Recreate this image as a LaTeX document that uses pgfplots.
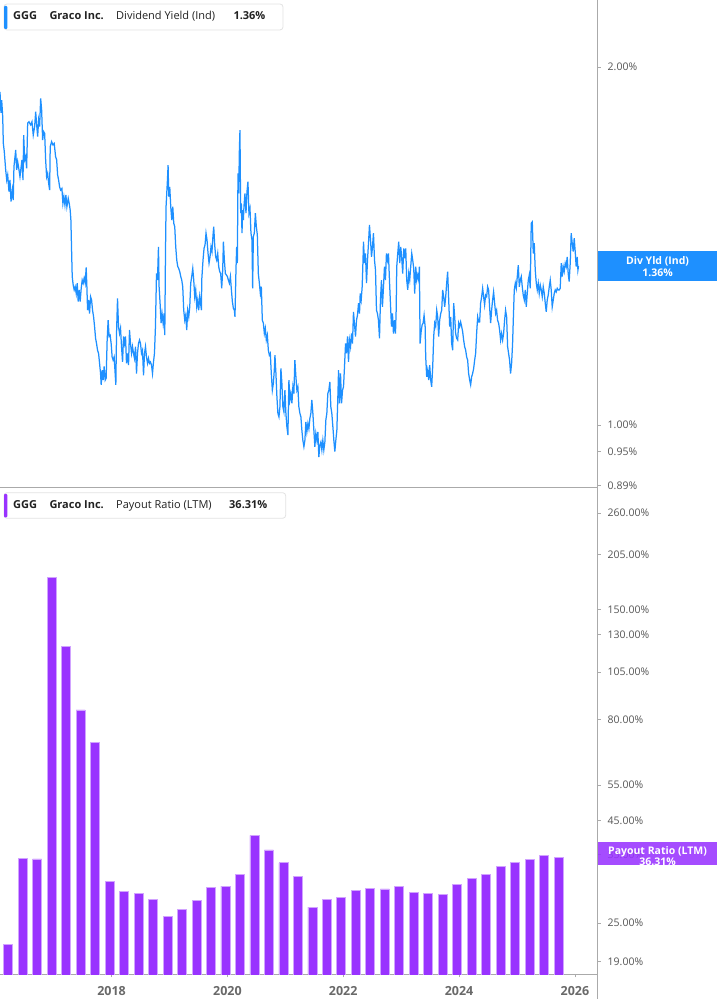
\documentclass[border=0pt]{standalone}
\usepackage{fontspec}
\setmainfont{Open Sans}
\usepackage{pgfplots}
\pgfplotsset{compat=1.18}

\definecolor{divblue}{RGB}{30,144,255}
\definecolor{barpurple}{RGB}{153,51,255}
\definecolor{axisgray}{RGB}{170,170,170}
\definecolor{labelgray}{RGB}{85,85,85}
\definecolor{yeargray}{RGB}{105,105,105}
\definecolor{legendborder}{RGB}{226,226,226}
\definecolor{legendtext}{RGB}{34,34,34}

\begin{document}
\begin{tikzpicture}
\path[use as bounding box] (0bp,0bp) rectangle (717bp,1005bp);

% dividend yield, top panel
\begin{axis}[
at={(0bp,517bp)}, anchor=south west,
width=597.5bp, height=488bp, scale only axis,
xmin=2016.074, xmax=2026.39,
ymode=log, ymin=0.8854, ymax=2.2767,
axis x line*=bottom, axis y line*=right,
axis line style={draw=axisgray, line width=1bp, -},
xtick=\empty,
ytick={0.89,0.95,1,2},
yticklabels={0.89\%,0.95\%,1.00\%,2.00\%},
tick align=outside, major tick length=3bp,
ytick style={draw=axisgray, line width=0.8bp},
yticklabel style={anchor=west, inner sep=0pt, xshift=7bp,
  font=\fontsize{10.5bp}{12bp}\selectfont, text=labelgray},
]
\addplot[divblue, line width=1.25bp] table {
2016.074 1.906
2016.091 1.830
2016.103 1.876
2016.121 1.816
2016.131 1.726
2016.148 1.698
2016.172 1.639
2016.190 1.607
2016.207 1.623
2016.229 1.571
2016.246 1.607
2016.264 1.541
2016.286 1.576
2016.303 1.546
2016.315 1.649
2016.333 1.681
2016.345 1.703
2016.362 1.639
2016.379 1.665
2016.402 1.639
2016.419 1.617
2016.436 1.644
2016.453 1.671
2016.471 1.607
2016.483 1.753
2016.500 1.671
2016.517 1.681
2016.534 1.644
2016.552 1.794
2016.574 1.799
2016.603 1.788
2016.626 1.799
2016.648 1.753
2016.672 1.782
2016.690 1.834
2016.707 1.788
2016.724 1.748
2016.741 1.805
2016.758 1.782
2016.776 1.882
2016.793 1.840
2016.810 1.736
2016.827 1.765
2016.845 1.759
2016.862 1.671
2016.879 1.617
2016.896 1.628
2016.914 1.597
2016.931 1.576
2016.941 1.714
2016.965 1.731
2016.988 1.720
2017.010 1.725
2017.034 1.681
2017.052 1.671
2017.069 1.623
2017.086 1.607
2017.103 1.586
2017.121 1.576
2017.143 1.581
2017.160 1.536
2017.177 1.556
2017.195 1.531
2017.212 1.561
2017.229 1.526
2017.252 1.551
2017.269 1.536
2017.286 1.516
2017.298 1.487
2017.310 1.403
2017.321 1.333
2017.338 1.311
2017.355 1.299
2017.372 1.307
2017.390 1.290
2017.407 1.316
2017.424 1.270
2017.441 1.299
2017.458 1.270
2017.476 1.303
2017.493 1.324
2017.510 1.316
2017.527 1.329
2017.545 1.316
2017.562 1.357
2017.574 1.307
2017.586 1.249
2017.603 1.274
2017.620 1.241
2017.638 1.282
2017.655 1.274
2017.672 1.249
2017.690 1.233
2017.707 1.210
2017.724 1.183
2017.741 1.171
2017.758 1.156
2017.776 1.149
2017.793 1.127
2017.810 1.105
2017.821 1.081
2017.838 1.112
2017.855 1.091
2017.872 1.120
2017.890 1.091
2017.907 1.095
2017.924 1.179
2017.941 1.225
2017.958 1.187
2017.976 1.190
2017.993 1.171
2018.010 1.141
2018.027 1.134
2018.045 1.141
2018.062 1.105
2018.074 1.081
2018.086 1.194
2018.103 1.278
2018.120 1.210
2018.138 1.194
2018.155 1.206
2018.172 1.164
2018.190 1.130
2018.207 1.187
2018.224 1.171
2018.241 1.187
2018.258 1.127
2018.276 1.149
2018.293 1.123
2018.310 1.202
2018.327 1.171
2018.345 1.149
2018.362 1.164
2018.379 1.149
2018.396 1.138
2018.414 1.164
2018.431 1.105
2018.448 1.149
2018.465 1.171
2018.483 1.179
2018.500 1.171
2018.517 1.149
2018.534 1.156
2018.552 1.101
2018.569 1.149
2018.586 1.164
2018.603 1.141
2018.621 1.127
2018.638 1.138
2018.655 1.127
2018.672 1.130
2018.690 1.123
2018.707 1.105
2018.724 1.130
2018.741 1.149
2018.758 1.210
2018.776 1.341
2018.793 1.324
2018.810 1.412
2018.821 1.307
2018.838 1.266
2018.855 1.218
2018.872 1.241
2018.890 1.218
2018.907 1.241
2018.919 1.190
2018.931 1.394
2018.941 1.526
2018.953 1.566
2018.965 1.607
2018.976 1.654
2018.988 1.556
2019.005 1.586
2019.022 1.526
2019.040 1.487
2019.057 1.526
2019.074 1.478
2019.091 1.468
2019.108 1.412
2019.126 1.376
2019.143 1.359
2019.160 1.354
2019.177 1.346
2019.195 1.333
2019.212 1.324
2019.229 1.307
2019.246 1.249
2019.264 1.225
2019.281 1.237
2019.298 1.202
2019.315 1.249
2019.333 1.233
2019.350 1.257
2019.367 1.316
2019.384 1.333
2019.402 1.354
2019.419 1.324
2019.436 1.282
2019.453 1.299
2019.471 1.257
2019.488 1.274
2019.505 1.249
2019.522 1.282
2019.552 1.249
2019.557 1.324
2019.579 1.376
2019.597 1.408
2019.614 1.417
2019.631 1.450
2019.648 1.431
2019.666 1.394
2019.683 1.368
2019.700 1.385
2019.717 1.412
2019.734 1.399
2019.752 1.445
2019.764 1.468
2019.781 1.417
2019.798 1.385
2019.815 1.376
2019.833 1.394
2019.850 1.359
2019.867 1.346
2019.884 1.341
2019.902 1.303
2019.919 1.350
2019.931 1.426
2019.948 1.376
2019.965 1.341
2019.983 1.337
2020.000 1.333
2020.017 1.324
2020.034 1.316
2020.052 1.333
2020.069 1.299
2020.086 1.270
2020.103 1.254
2020.120 1.249
2020.131 1.233
2020.148 1.350
2020.160 1.412
2020.172 1.368
2020.183 1.628
2020.195 1.566
2020.207 1.703
2020.217 1.770
2020.229 1.507
2020.241 1.536
2020.252 1.450
2020.264 1.516
2020.276 1.487
2020.286 1.526
2020.303 1.566
2020.321 1.507
2020.338 1.571
2020.355 1.602
2020.372 1.507
2020.390 1.521
2020.407 1.450
2020.424 1.431
2020.436 1.303
2020.448 1.440
2020.465 1.450
2020.483 1.507
2020.500 1.468
2020.517 1.445
2020.534 1.341
2020.552 1.316
2020.569 1.290
2020.586 1.307
2020.603 1.225
2020.621 1.218
2020.638 1.194
2020.655 1.206
2020.672 1.179
2020.690 1.190
2020.707 1.156
2020.724 1.145
2020.741 1.149
2020.758 1.105
2020.776 1.070
2020.793 1.084
2020.810 1.112
2020.821 1.145
2020.838 1.105
2020.855 1.056
2020.872 1.023
2020.890 1.016
2020.907 1.036
2020.924 1.116
2020.941 1.084
2020.958 1.036
2020.976 1.026
2020.993 1.070
2021.010 1.023
2021.027 0.997
2021.045 0.981
2021.062 1.091
2021.079 1.050
2021.096 1.063
2021.114 1.043
2021.131 1.077
2021.148 1.063
2021.165 1.134
2021.183 1.098
2021.200 1.070
2021.217 1.077
2021.234 1.036
2021.252 1.023
2021.269 1.016
2021.286 0.990
2021.303 0.971
2021.321 0.959
2021.338 0.971
2021.355 1.006
2021.372 0.987
2021.390 1.003
2021.407 0.993
2021.424 1.013
2021.441 1.023
2021.458 1.050
2021.476 1.023
2021.493 0.990
2021.510 0.959
2021.527 0.984
2021.545 0.971
2021.562 0.987
2021.579 0.940
2021.596 0.962
2021.614 0.968
2021.631 0.953
2021.648 0.971
2021.665 0.953
2021.683 0.968
2021.700 1.010
2021.717 1.023
2021.734 1.063
2021.752 1.070
2021.769 1.087
2021.786 1.036
2021.803 1.023
2021.821 0.997
2021.838 0.971
2021.855 0.950
2021.872 0.971
2021.890 0.990
2021.907 1.056
2021.919 1.112
2021.936 1.043
2021.953 1.105
2021.971 1.043
2021.988 1.070
2022.005 1.077
2022.022 1.120
2022.040 1.171
2022.057 1.149
2022.074 1.187
2022.091 1.130
2022.108 1.179
2022.126 1.164
2022.143 1.194
2022.160 1.171
2022.177 1.245
2022.195 1.214
2022.212 1.187
2022.229 1.225
2022.246 1.237
2022.264 1.266
2022.281 1.241
2022.293 1.290
2022.310 1.274
2022.327 1.307
2022.338 1.359
2022.350 1.426
2022.367 1.368
2022.384 1.394
2022.402 1.316
2022.419 1.376
2022.436 1.422
2022.453 1.473
2022.471 1.431
2022.488 1.385
2022.505 1.412
2022.522 1.450
2022.540 1.376
2022.557 1.350
2022.574 1.249
2022.591 1.241
2022.608 1.225
2022.626 1.183
2022.643 1.274
2022.660 1.324
2022.677 1.257
2022.695 1.307
2022.712 1.359
2022.729 1.324
2022.746 1.394
2022.764 1.376
2022.781 1.394
2022.798 1.324
2022.815 1.266
2022.833 1.210
2022.850 1.241
2022.867 1.194
2022.884 1.225
2022.902 1.194
2022.914 1.249
2022.924 1.359
2022.941 1.394
2022.958 1.426
2022.976 1.368
2022.993 1.412
2023.010 1.381
2023.027 1.341
2023.045 1.408
2023.062 1.381
2023.079 1.408
2023.096 1.324
2023.114 1.299
2023.131 1.341
2023.148 1.324
2023.165 1.359
2023.183 1.394
2023.200 1.376
2023.217 1.354
2023.234 1.290
2023.252 1.359
2023.269 1.324
2023.286 1.337
2023.303 1.324
2023.315 1.359
2023.327 1.171
2023.345 1.198
2023.362 1.214
2023.379 1.218
2023.396 1.237
2023.414 1.210
2023.424 1.141
2023.441 1.098
2023.458 1.112
2023.476 1.091
2023.493 1.123
2023.510 1.091
2023.527 1.077
2023.545 1.120
2023.562 1.187
2023.579 1.218
2023.596 1.210
2023.614 1.249
2023.631 1.233
2023.648 1.187
2023.665 1.225
2023.683 1.241
2023.700 1.249
2023.717 1.299
2023.734 1.282
2023.752 1.257
2023.769 1.282
2023.786 1.316
2023.803 1.346
2023.821 1.274
2023.838 1.210
2023.855 1.233
2023.872 1.171
2023.890 1.156
2023.907 1.266
2023.924 1.233
2023.941 1.194
2023.958 1.183
2023.976 1.179
2023.993 1.218
2024.010 1.210
2024.027 1.221
2024.045 1.210
2024.062 1.198
2024.079 1.179
2024.096 1.164
2024.114 1.156
2024.131 1.141
2024.148 1.134
2024.165 1.105
2024.183 1.091
2024.200 1.081
2024.217 1.098
2024.234 1.105
2024.252 1.116
2024.269 1.134
2024.286 1.149
2024.303 1.194
2024.321 1.233
2024.338 1.221
2024.355 1.221
2024.372 1.266
2024.390 1.282
2024.407 1.303
2024.424 1.282
2024.441 1.262
2024.458 1.286
2024.476 1.282
2024.493 1.307
2024.510 1.299
2024.527 1.257
2024.545 1.218
2024.562 1.249
2024.579 1.274
2024.596 1.294
2024.614 1.266
2024.631 1.241
2024.648 1.249
2024.665 1.225
2024.683 1.218
2024.700 1.202
2024.717 1.179
2024.734 1.194
2024.752 1.179
2024.769 1.194
2024.786 1.225
2024.803 1.249
2024.821 1.233
2024.838 1.164
2024.855 1.149
2024.872 1.134
2024.889 1.105
2024.907 1.127
2024.924 1.171
2024.936 1.225
2024.953 1.299
2024.971 1.316
2024.988 1.303
2025.005 1.333
2025.022 1.363
2025.040 1.307
2025.057 1.324
2025.074 1.333
2025.091 1.307
2025.108 1.286
2025.126 1.274
2025.143 1.299
2025.160 1.257
2025.177 1.290
2025.195 1.324
2025.212 1.337
2025.229 1.303
2025.246 1.478
2025.264 1.482
2025.281 1.394
2025.298 1.422
2025.315 1.350
2025.333 1.316
2025.350 1.299
2025.367 1.316
2025.384 1.290
2025.402 1.311
2025.419 1.299
2025.436 1.282
2025.453 1.307
2025.471 1.290
2025.488 1.266
2025.505 1.245
2025.522 1.274
2025.539 1.286
2025.557 1.307
2025.574 1.324
2025.591 1.299
2025.608 1.257
2025.626 1.274
2025.643 1.290
2025.660 1.299
2025.677 1.294
2025.695 1.303
2025.712 1.299
2025.729 1.299
2025.746 1.303
2025.764 1.368
2025.781 1.333
2025.798 1.359
2025.815 1.346
2025.833 1.368
2025.850 1.359
2025.867 1.385
2025.884 1.341
2025.901 1.320
2025.919 1.368
2025.936 1.450
2025.953 1.422
2025.971 1.399
2025.988 1.436
2026.005 1.399
2026.022 1.359
2026.040 1.385
2026.052 1.350
2026.062 1.360
};
\end{axis}

% payout ratio, bottom panel
\begin{axis}[
at={(0bp,30.7bp)}, anchor=south west,
width=597.5bp, height=486.3bp, scale only axis,
xmin=2016.074, xmax=2026.39,
ymode=log, ymin=18.67, ymax=300.3,
ybar, bar width=9bp,
axis x line*=bottom, axis y line*=right,
axis line style={draw=axisgray, line width=1bp, -},
xtick={2018,2020,2022,2024,2026},
xticklabels={2018,2020,2022,2024,2026},
ytick={20.07,25,36.93,45,55,80,105,130,150,205,260},
yticklabels={19.00\%,25.00\%,35.00\%,45.00\%,55.00\%,80.00\%,105.00\%,130.00\%,150.00\%,205.00\%,260.00\%},
tick align=outside, major tick length=3bp,
xtick style={draw=axisgray, line width=0.8bp},
ytick style={draw=axisgray, line width=0.8bp},
yticklabel style={anchor=west, inner sep=0pt, xshift=7bp,
  font=\fontsize{10.5bp}{12bp}\selectfont, text=labelgray},
xticklabel style={anchor=base, inner sep=0pt, yshift=-18bp,
  font=\fontsize{12.5bp}{14bp}\selectfont\bfseries, text=yeargray},
]
\addplot[fill=barpurple, draw=barpurple!45!white, line width=0.7bp] table {
2016.217 22.1
2016.467 36.2
2016.717 36.1
2016.967 179.9
2017.217 121.4
2017.467 84.5
2017.717 70.1
2017.967 31.8
2018.217 29.9
2018.467 29.7
2018.717 28.6
2018.967 26.0
2019.217 27.1
2019.467 28.5
2019.717 30.6
2019.967 30.9
2020.217 33.1
2020.467 41.3
2020.717 38.0
2020.967 35.3
2021.217 32.7
2021.467 27.4
2021.717 28.7
2021.967 28.9
2022.217 30.1
2022.467 30.5
2022.717 30.4
2022.967 30.8
2023.217 29.8
2023.467 29.6
2023.717 29.4
2023.967 31.2
2024.217 32.3
2024.467 33.1
2024.717 34.5
2024.967 35.3
2025.217 35.9
2025.467 36.9
2025.717 36.31
};
\end{axis}

% right axis line below the bars
\draw[axisgray, line width=1bp] (597.5bp,30.7bp) -- (597.5bp,6bp);

% value tags on the right
\fill[divblue] (598bp,724bp) rectangle (717bp,754bp);
\node[text=white, font=\fontsize{10.5bp}{12bp}\selectfont\bfseries, inner sep=0pt] at (657.5bp,743.3bp) {Div Yld (Ind)};
\node[text=white, font=\fontsize{10.5bp}{12bp}\selectfont\bfseries, inner sep=0pt] at (657.5bp,732.7bp) {1.36\%};

\fill[barpurple, fill opacity=0.88] (598bp,139.5bp) rectangle (717bp,162.5bp);
\node[text=white, font=\fontsize{10.5bp}{12bp}\selectfont\bfseries, inner sep=0pt] at (657.5bp,153.5bp) {Payout Ratio (LTM)};
\node[text=white, font=\fontsize{10.5bp}{12bp}\selectfont\bfseries, inner sep=0pt] at (657.5bp,143.5bp) {36.31\%};

% legend boxes
\draw[legendborder, fill=white, line width=0.8bp, rounded corners=3bp] (4bp,975bp) rectangle (283bp,1001bp);
\fill[divblue, rounded corners=1bp] (4bp,976bp) rectangle (7.3bp,999bp);
\begin{scope}[every node/.style={anchor=base west, inner sep=0pt, text=legendtext, font=\fontsize{11bp}{13bp}\selectfont}]
\node[font=\fontsize{11bp}{13bp}\selectfont\bfseries] at (13bp,985bp) {GGG};
\node[font=\fontsize{11bp}{13bp}\selectfont\bfseries] at (49.3bp,985bp) {Graco Inc.};
\node at (116bp,985bp) {Dividend Yield (Ind)};
\node[font=\fontsize{11bp}{13bp}\selectfont\bfseries] at (233.3bp,985bp) {1.36\%};
\end{scope}

\draw[legendborder, fill=white, line width=0.8bp, rounded corners=3bp] (4bp,486.7bp) rectangle (285.7bp,512.3bp);
\fill[barpurple, rounded corners=1bp] (4bp,487.7bp) rectangle (7.3bp,511bp);
\begin{scope}[every node/.style={anchor=base west, inner sep=0pt, text=legendtext, font=\fontsize{11bp}{13bp}\selectfont}]
\node[font=\fontsize{11bp}{13bp}\selectfont\bfseries] at (13bp,496bp) {GGG};
\node[font=\fontsize{11bp}{13bp}\selectfont\bfseries] at (49.3bp,496bp) {Graco Inc.};
\node at (116bp,496bp) {Payout Ratio (LTM)};
\node[font=\fontsize{11bp}{13bp}\selectfont\bfseries] at (229bp,496bp) {36.31\%};
\end{scope}
\end{tikzpicture}
\end{document}
